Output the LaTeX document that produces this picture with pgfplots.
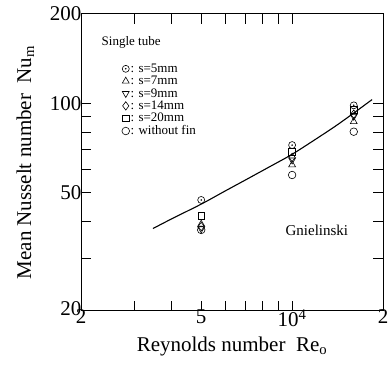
\documentclass[border=0pt]{standalone}
\usepackage{pgfplots}
\pgfplotsset{compat=1.18}
\usepackage{fontspec}
\setmainfont{Liberation Serif}
\pgfdeclareplotmark{odot}{%
  \pgfpathcircle{\pgfpointorigin}{\pgfplotmarksize}\pgfusepathqstroke
  \pgfpathcircle{\pgfpointorigin}{0.9pt}\pgfusepathqfill}
\begin{document}
\begin{tikzpicture}
\begin{axis}[
  xmode=log, ymode=log,
  scale only axis,
  width=302pt, height=297pt,
  xmin=2000, xmax=20000, ymin=20, ymax=200,
  xtick={2000,5000,10000,20000},
  xticklabels={2,5,10\textsuperscript{4},2},
  minor xtick={3000,4000,6000,7000,8000,9000},
  ytick={20,50,100,200},
  yticklabels={\raisebox{5pt}{20},50,100,200},
  minor ytick={30,40,60,70,80,90},
  tick align=inside,
  major tick length=10pt, minor tick length=10pt,
  tick style={line width=1pt, black},
  axis line style={line width=1pt},
  ticklabel style={font=\fontsize{21}{24}\selectfont},
  xticklabel style={yshift=5pt},
  yticklabel style={xshift=4pt},
  xlabel={Reynolds number\ \ Re\textsubscript{o}},
  ylabel={Mean Nusselt number\ \ Nu\textsubscript{m}},
  label style={font=\fontsize{21}{24}\selectfont},
  xlabel style={yshift=-3pt},
  ylabel style={yshift=9pt},
  legend style={draw=none, fill=none, font=\fontsize{13}{14}\selectfont,
    at={(rel axis cs:0.125,0.843)}, anchor=north west, row sep=0.3pt,
    nodes={inner sep=1pt}},
  legend cell align=left,
  every axis plot/.append style={black, line width=0.6pt},
  clip=false,
]
\addplot[only marks, mark=odot, mark size=3.5pt] coordinates {(5000,47.3) (10000,72.4) (16000,98.5)};
\addlegendentry{: s=5mm}
\addplot[only marks, mark=triangle, mark size=4pt] coordinates {(5000,39.2) (10000,62.1) (16000,86.8)};
\addlegendentry{: s=7mm}
\addplot[only marks, mark=triangle, mark size=4pt, mark options={rotate=180}] coordinates {(5000,37.8) (10000,64.5) (16000,90.5)};
\addlegendentry{: s=9mm}
\addplot[only marks, mark=diamond, mark size=4.2pt] coordinates {(5000,38.5) (10000,65.8) (16000,92.0)};
\addlegendentry{: s=14mm}
\addplot[only marks, mark=square, mark size=3.4pt] coordinates {(5000,41.8) (10000,68.8) (16000,95.0)};
\addlegendentry{: s=20mm}
\addplot[only marks, mark=o, mark size=3.8pt] coordinates {(5000,37.5) (10000,57.4) (16000,80.3)};
\addlegendentry{: without fin}
\addplot[no marks, smooth, line width=1.1pt, forget plot] coordinates {
(3460,37.9) (4000,40.9) (5000,45.8) (6000,50.7) (7000,55.2) (8500,61.5)
(10000,67.4) (12000,75.9) (14000,84.2) (16000,92.8) (18400,103)};
\node[font=\fontsize{13}{14}\selectfont] at (axis cs:2930,160) {Single tube};
\node[font=\fontsize{15}{17}\selectfont] at (axis cs:12080,37.5) {Gnielinski};
\path (rel axis cs:0,0) ++(-81pt,-54pt) coordinate (bb1);
\path (rel axis cs:1,1) ++(5pt,14pt) coordinate (bb2);
\end{axis}
\pgfresetboundingbox
\path[use as bounding box] (bb1) rectangle (bb2);
\end{tikzpicture}
\end{document}
